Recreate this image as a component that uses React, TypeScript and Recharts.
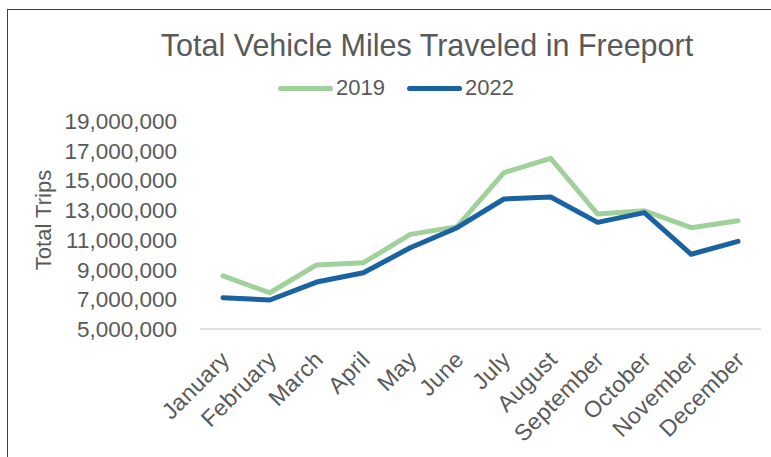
import { CartesianGrid, Legend, Line, LineChart, XAxis, YAxis } from "recharts";

const months = [
  "January",
  "February",
  "March",
  "April",
  "May",
  "June",
  "July",
  "August",
  "September",
  "October",
  "November",
  "December",
];

const trips2019 = [
  8570000, 7440000, 9310000, 9460000, 11370000, 11890000, 15520000, 16490000, 12740000, 12960000, 11820000,
  12290000,
];

const trips2022 = [
  7110000, 6950000, 8160000, 8790000, 10470000, 11820000, 13750000, 13880000, 12180000, 12830000, 10030000,
  10900000,
];

const yTicks = [5000000, 7000000, 9000000, 11000000, 13000000, 15000000, 17000000, 19000000];

const seriesInfo = [
  { key: "y2019", name: "2019", color: "#A1D19B" },
  { key: "y2022", name: "2022", color: "#1A62A2" },
];

const data = months.map((month, i) => ({ month, y2019: trips2019[i], y2022: trips2022[i] }));

const FONT = "'Liberation Sans', Arial, sans-serif";
const TEXT = "#595959";

function LegendRow() {
  return (
    <div style={{ display: "flex", alignItems: "center", fontFamily: FONT, fontSize: 22, color: TEXT }}>
      {seriesInfo.map((s, i) => (
        <div key={s.key} style={{ display: "flex", alignItems: "center", marginLeft: i ? 22 : 0 }}>
          <span style={{ display: "inline-block", width: 55, height: 5, borderRadius: 3, background: s.color, marginRight: 3 }} />
          <span>{s.name}</span>
        </div>
      ))}
    </div>
  );
}

function YTitle({ viewBox }: any) {
  const cx = 43;
  const cy = viewBox.y + viewBox.height / 2 - 5;
  return (
    <text
      x={cx}
      y={cy}
      transform={`rotate(-90 ${cx} ${cy})`}
      textAnchor="middle"
      dominantBaseline="central"
      fontFamily={FONT}
      fontSize={22}
      fill={TEXT}
    >
      Total Trips
    </text>
  );
}

// month labels, slanted up to the right, ending just under each point
function MonthTick({ x, y, payload }: any) {
  const tx = x + 8;
  const ty = y + 26;
  return (
    <text
      x={tx}
      y={ty}
      transform={`rotate(-45 ${tx} ${ty})`}
      textAnchor="end"
      fontFamily={FONT}
      fontSize={23}
      letterSpacing={0.4}
      fill={TEXT}
    >
      {payload.value}
    </text>
  );
}

export default function App() {
  return (
    <div style={{ position: "absolute", left: 0, top: 0, width: 771, height: 457, background: "#fff", overflow: "hidden" }}>
      <div
        style={{
          position: "absolute",
          left: 7,
          top: 9,
          width: 800,
          height: 500,
          borderLeft: "1.5px solid #404040",
          borderTop: "1.5px solid #404040",
        }}
      />
      <div
        style={{
          position: "absolute",
          left: 0,
          top: 27,
          width: 854,
          textAlign: "center",
          fontFamily: FONT,
          fontSize: 30.5,
          color: TEXT,
          lineHeight: "36px",
        }}
      >
        Total Vehicle Miles Traveled in Freeport
      </div>
      <LineChart width={771} height={457} data={data} margin={{ top: 121, right: 10, bottom: 8, left: 0 }}>
        <CartesianGrid horizontal={false} vertical={false} />
        <XAxis
          dataKey="month"
          interval={0}
          padding={{ left: 23, right: 23 }}
          axisLine={{ stroke: "#D9D9D9", strokeWidth: 1.5 }}
          tickLine={false}
          tickSize={6}
          tickMargin={0}
          height={120}
          tick={<MonthTick />}
        />
        <YAxis
          width={200}
          domain={[5000000, 19000000]}
          ticks={yTicks}
          interval={0}
          axisLine={false}
          tickLine={false}
          tickMargin={17}
          tickFormatter={(v: number) => v.toLocaleString("en-US")}
          tick={{ fontFamily: FONT, fontSize: 22.5, fill: TEXT }}
          label={<YTitle />}
        />
        <Legend
          verticalAlign="middle"
          align="center"
          content={() => <LegendRow />}
          wrapperStyle={{ top: 75, left: 278, width: "auto", height: 26 }}
        />
        {seriesInfo.map((s) => (
          <Line
            key={s.key}
            type="linear"
            dataKey={s.key}
            name={s.name}
            stroke={s.color}
            strokeWidth={5}
            strokeLinecap="round"
            strokeLinejoin="round"
            dot={false}
            activeDot={false}
            isAnimationActive={false}
          />
        ))}
      </LineChart>
    </div>
  );
}
